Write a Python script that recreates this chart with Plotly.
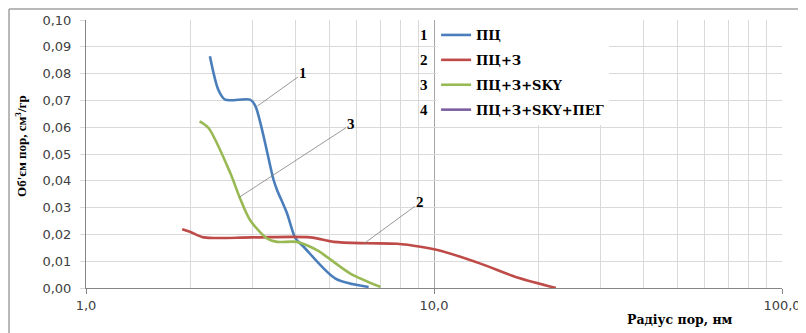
import math
import plotly.graph_objects as go

# ---- data ----
r_pc = [2.27, 2.40, 2.51, 2.96, 3.07, 3.46, 3.54, 3.78, 4.00, 4.22, 5.21, 6.49]
v_pc = [0.0865, 0.074, 0.0703, 0.0703, 0.0678, 0.0403, 0.0366, 0.0279, 0.0185, 0.0154, 0.0035, 0.0004]

r_pc_z = [1.89, 1.99, 2.18, 3.0, 4.41, 5.15, 6.43, 7.83, 9.14, 10.44, 13.6, 17.35, 22.4]
v_pc_z = [0.0219, 0.0210, 0.0189, 0.0189, 0.0189, 0.0172, 0.0167, 0.0165, 0.0154, 0.0139, 0.0091, 0.0039, 0.0]

r_pc_z_sky = [2.12, 2.25, 2.60, 2.77, 2.96, 3.31, 3.54, 4.03, 4.61, 5.75, 7.02]
v_pc_z_sky = [0.0622, 0.0597, 0.0428, 0.0335, 0.0254, 0.0185, 0.0172, 0.0172, 0.0141, 0.0054, 0.0004]

r_pc_z_sky_peg = []
v_pc_z_sky_peg = []

names = ["ПЦ", "ПЦ+З", "ПЦ+З+SKY", "ПЦ+З+SKY+ПЕГ"]
numbers = ["1", "2", "3", "4"]
colors = ["#4a7ebb", "#be4b48", "#98b954", "#7d60a0"]
series = [(r_pc, v_pc), (r_pc_z, v_pc_z), (r_pc_z_sky, v_pc_z_sky), (r_pc_z_sky_peg, v_pc_z_sky_peg)]

x_ticks = [1, 10, 100]
x_ticktext = ["1,0", "10,0", "100,0"]
minor_vals = [m * d for d in (1, 10) for m in range(2, 10)]

serif = "Liberation Serif"
wide_serif = "DejaVu Serif"
sans = "DejaVu Sans"

fig = go.Figure()
for i, ((xs, ys), nm, col) in enumerate(zip(series, names, colors)):
    fig.add_trace(go.Scatter(
        x=xs if xs else [None], y=ys if ys else [None],
        mode="lines", name=f"<b>{nm}</b>", legendgroup=f"g{i}",
        line=dict(color=col, width=2.6, shape="spline", smoothing=0.8),
    ))

# curve labels with leader lines: (label, x on curve, y on curve, dx, dy)
callouts = [("1", 3.11, 0.0679, 46, -33), ("3", 2.76, 0.0339, 112, -73), ("2", 6.31, 0.0167, 56, -41)]
for lab, cx, cy, dx, dy in callouts:
    fig.add_annotation(x=math.log10(cx), y=cy, xref="x", yref="y", text=f"<b>{lab}</b>",
                       showarrow=True, arrowhead=0, arrowwidth=0.8, arrowcolor="#7f7f7f",
                       ax=dx, ay=dy, standoff=0,
                       font=dict(family=serif, size=15, color="#000000"))

fig.update_layout(
    width=798, height=325,
    margin=dict(l=78, r=24, t=12, b=45, autoexpand=False),
    paper_bgcolor="white", plot_bgcolor="white",
    separators=", ",
    showlegend=True,
    legend=dict(x=0.503, y=1.0, xanchor="left", yanchor="top",
                bgcolor="white", borderwidth=0, tracegroupgap=5,
                font=dict(family=wide_serif, size=13, color="#000000")),
    xaxis=dict(type="log", range=[0, 2], tickmode="array", tickvals=x_ticks, ticktext=x_ticktext,
               automargin=False,
               showgrid=True, gridcolor="#a6a6a6", gridwidth=1,
               minor=dict(tickmode="array", tickvals=minor_vals, showgrid=True, gridcolor="#d9d9d9", ticks=""),
               showline=True, linecolor="#868686", linewidth=1,
               ticks="outside", ticklen=5, tickcolor="#868686",
               tickfont=dict(family=sans, size=13, color="#404040"),
               zeroline=False),
    yaxis=dict(range=[0, 0.1], dtick=0.01, tickformat=".2f",
               automargin=False,
               showgrid=True, gridcolor="#d9d9d9", gridwidth=1,
               showline=True, linecolor="#868686", linewidth=1,
               ticks="outside", ticklen=5, tickcolor="#d9d9d9",
               ticklabelstandoff=6,
               tickfont=dict(family=sans, size=13, color="#404040"),
               zeroline=False),
)

# y-axis title
fig.add_annotation(x=-0.0934, y=0.53, xref="paper", yref="paper", xanchor="center", yanchor="middle",
                   textangle=-90, text="<b>Об'єм пор, см<sup>3</sup>/гр</b>", showarrow=False,
                   font=dict(family=serif, size=13, color="#000000"))

# legend number markers
for k, num in enumerate(numbers):
    fig.add_annotation(x=0.4856, y=0.944 - k * 0.0933, xref="paper", yref="paper",
                       xanchor="center", yanchor="middle",
                       text=f"<b>{num}</b>", showarrow=False,
                       font=dict(family=serif, size=15, color="#000000"))

# x-axis title
fig.add_annotation(x=0.8534, y=-0.119, xref="paper", yref="paper", xanchor="center", yanchor="middle",
                   text="<b>Радіус пор, нм</b>", showarrow=False,
                   font=dict(family=wide_serif, size=12.5, color="#000000"))

# chart outer frame (top and left edges)
fig.add_shape(type="line", xref="paper", yref="paper", x0=-0.1106, x1=1.04, y0=1.041, y1=1.041,
              line=dict(color="#a0a0a0", width=1.5))
fig.add_shape(type="line", xref="paper", yref="paper", x0=-0.1106, x1=-0.1106, y0=1.041, y1=-0.2,
              line=dict(color="#a0a0a0", width=1.5))

fig.write_html("out.html")
